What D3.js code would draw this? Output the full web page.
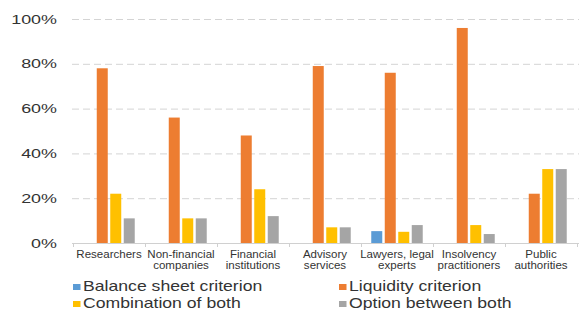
<!DOCTYPE html>
<html>
<head>
<meta charset="utf-8">
<script src="https://cdn.jsdelivr.net/npm/d3@7/dist/d3.min.js"></script>
<style>
  body { margin: 0; background: #fff; }
  svg text { font-family: "Liberation Sans", Arial, sans-serif; fill: #333; }
</style>
</head>
<body>
<svg id="chart" width="579" height="310"></svg>
<script>
// data
const categories = ["Researchers", "Non-financial companies", "Financial institutions",
  "Advisory services", "Lawyers, legal experts", "Insolvency practitioners", "Public authorities"];
const cat_lines = [["Researchers"], ["Non-financial", "companies"], ["Financial", "institutions"],
  ["Advisory", "services"], ["Lawyers, legal", "experts"], ["Insolvency", "practitioners"], ["Public", "authorities"]];
const series = ["Balance sheet criterion", "Liquidity criterion", "Combination of both", "Option between both"];
const balance = [0, 0, 0, 0, 5.3, 0, 0];
const liquidity = [78, 56, 48, 79, 76, 96, 22];
const combination = [22, 11, 24, 7, 5, 8, 33];
const option = [11, 11, 12, 7, 8, 4, 33];
const y_ticks = [0, 20, 40, 60, 80, 100];
const colors = ["#5B9BD5", "#ED7D31", "#FFC000", "#A5A5A5"];

const values = [balance, liquidity, combination, option];
const svg = d3.select("#chart");

const plot_left = 73, plot_right = 577, plot_top = 19, plot_bottom = 243;

const x0 = d3.scaleBand().domain(categories).range([plot_left, plot_right]).padding(0);
const x1 = d3.scaleBand().domain(series).range([0, x0.bandwidth()])
  .paddingInner(0.185).paddingOuter(0.76);
const y = d3.scaleLinear().domain([0, 100]).range([plot_bottom, plot_top]);
const color = d3.scaleOrdinal().domain(series).range(colors);

// gridlines
svg.append("g").classed("grid", true)
  .selectAll("line")
  .data(y_ticks.filter(d => d > 0))
  .join("line")
  .attr("x1", plot_left - 1)
  .attr("x2", 579)
  .attr("y1", d => y(d) + 0.5)
  .attr("y2", d => y(d) + 0.5)
  .attr("stroke", "#d4d4d4")
  .attr("stroke-width", 1)
  .attr("stroke-dasharray", "7,4");

// y labels (text in the picture is horizontally stretched)
svg.append("g").classed("ylabels", true)
  .selectAll("text")
  .data(y_ticks)
  .join("text")
  .attr("transform", d => "translate(57," + (y(d) + 4.5) + ") scale(1.4,1)")
  .attr("text-anchor", "end")
  .style("font-size", "12.8px")
  .text(d => d + "%");

// bars
const groups = svg.append("g").classed("bars", true)
  .selectAll("g")
  .data(categories)
  .join("g")
  .attr("transform", d => "translate(" + x0(d) + ",0)");

groups.selectAll("rect")
  .data((d, i) => series.map((s, j) => ({ s: s, v: values[j][i] })))
  .join("rect")
  .attr("x", d => x1(d.s))
  .attr("width", x1.bandwidth())
  .attr("y", d => y(d.v))
  .attr("height", d => y(0) - y(d.v))
  .attr("fill", d => color(d.s));

// x axis line and ticks
svg.append("line")
  .attr("x1", plot_left - 1).attr("x2", 579)
  .attr("y1", plot_bottom + 0.5).attr("y2", plot_bottom + 0.5)
  .attr("stroke", "#d0d0d0");

svg.append("g").classed("xticks", true)
  .selectAll("line")
  .data(categories.concat(["end"]))
  .join("line")
  .attr("x1", (d, i) => plot_left + i * x0.step() + 0.5)
  .attr("x2", (d, i) => plot_left + i * x0.step() + 0.5)
  .attr("y1", plot_bottom)
  .attr("y2", plot_bottom + 4)
  .attr("stroke", "#d0d0d0");

// category labels
const xl = svg.append("g").classed("xlabels", true)
  .selectAll("g")
  .data(categories)
  .join("g")
  .attr("transform", d => "translate(" + (x0(d) + x0.bandwidth() / 2) + ",0)");

xl.each(function(d, i) {
  d3.select(this).selectAll("text")
    .data(cat_lines[i])
    .join("text")
    .attr("transform", (t, k) => "translate(0," + (257.5 + k * 11) + ") scale(1.12,1)")
    .attr("text-anchor", "middle")
    .style("font-size", "10.3px")
    .text(t => t);
});

// legend
const legend_x = [73, 339];
const legend_y = [291, 308];
const lg = svg.append("g").classed("legend", true)
  .selectAll("g")
  .data(series)
  .join("g")
  .attr("transform", (d, i) => "translate(" + legend_x[i % 2] + "," + legend_y[Math.floor(i / 2)] + ")");

lg.append("rect")
  .attr("x", 0).attr("y", -7)
  .attr("width", 7.5).attr("height", 6)
  .attr("fill", d => color(d));

lg.append("text")
  .attr("transform", "translate(10,0) scale(1.26,1)")
  .style("font-size", "14px")
  .text(d => d);
</script>
</body>
</html>
